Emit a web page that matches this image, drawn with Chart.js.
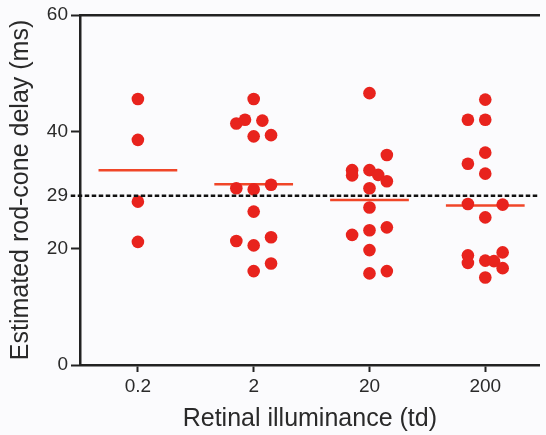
<!DOCTYPE html>
<html>
<head>
<meta charset="utf-8">
<script src="https://cdn.jsdelivr.net/npm/chart.js@4.4.1/dist/chart.umd.min.js"></script>
<style>
  html, body { margin: 0; padding: 0; background: #fbfbfd; }
  #wrap { width: 546px; height: 435px; }
</style>
</head>
<body>
<div id="wrap"><canvas id="c" width="546" height="435"></canvas></div>
<script>
// ---- data ----
const categories = ['0.2', '2', '20', '200'];
const yTickValues = [0, 20, 29, 40, 60];
const referenceDelay = 29;
const medians = [33.4, 31.0, 28.3, 27.35];

const values02  = [45.6, 38.6, 28.0, 21.1];
const jitter02  = [0, 0, 0, 0];
const values2   = [45.6, 41.4, 42.05, 41.9, 39.2, 39.4, 30.3, 30.1, 30.9, 26.3, 21.25, 20.5, 21.9, 17.4, 16.1];
const jitter2   = [0, -0.15, -0.075, 0.075, 0, 0.15, -0.15, 0, 0.15, 0, -0.15, 0, 0.15, 0.15, 0];
const values20  = [46.6, 36.0, 33.4, 32.5, 33.4, 32.6, 31.5, 30.3, 27.0, 22.3, 23.1, 23.6, 19.7, 15.7, 16.1];
const jitter20  = [0, 0.15, -0.15, -0.15, 0, 0.075, 0.15, 0, 0, -0.15, 0, 0.15, 0, 0, 0.15];
const values200 = [45.5, 42.05, 42.05, 36.4, 34.5, 32.8, 27.6, 27.5, 25.3, 18.8, 17.5, 17.9, 17.8, 19.3, 16.6, 15.0];
const jitter200 = [0, -0.15, 0, 0, -0.15, 0, -0.15, 0.15, 0, -0.15, -0.15, 0, 0.075, 0.15, 0.15, 0];

const groupValues = [values02, values2, values20, values200];
const groupJitter = [jitter02, jitter2, jitter20, jitter200];

// ---- styles ----
const DOT = '#e8231d';
const MED = '#f04628';
const AXIS = '#222222';
const TXT = '#2a2a2a';
const FONT = '"Liberation Sans", Arial, Helvetica, sans-serif';
const X_MIN = -0.5, X_MAX = 3.47, HALF = 0.34;

const datasets = [];
groupValues.forEach((vals, i) => {
  datasets.push({
    type: 'scatter',
    data: vals.map((v, j) => ({ x: i + groupJitter[i][j], y: v })),
    backgroundColor: DOT,
    borderColor: DOT,
    borderWidth: 0,
    pointRadius: 6.3,
    pointHoverRadius: 6.3,
    order: 1
  });
});
medians.forEach((m, i) => {
  datasets.push({
    type: 'line',
    data: [{ x: i - HALF, y: m }, { x: i + HALF, y: m }],
    borderColor: MED,
    borderWidth: 2.5,
    pointRadius: 0,
    fill: false,
    order: 2
  });
});
datasets.push({
  type: 'line',
  data: [{ x: X_MIN - 0.08, y: referenceDelay }, { x: X_MAX, y: referenceDelay }],
  borderColor: '#111',
  borderWidth: 2.5,
  borderDash: [4.5, 2.5],
  pointRadius: 0,
  fill: false,
  clip: false,
  order: 0
});

new Chart(document.getElementById('c'), {
  type: 'scatter',
  data: { datasets },
  options: {
    responsive: false,
    animation: false,
    events: [],
    layout: { padding: { top: 7, right: 0, left: 0, bottom: 0 } },
    plugins: { legend: { display: false }, tooltip: { enabled: false } },
    scales: {
      x: {
        type: 'linear',
        position: 'bottom',
        min: X_MIN,
        max: X_MAX,
        afterBuildTicks: (s) => { s.ticks = categories.map((c, i) => ({ value: i })); },
        afterFit: (s) => { s.height = 70; },
        ticks: {
          callback: (v) => categories[v],
          font: { family: FONT, size: 19 },
          color: TXT,
          padding: 3,
          maxRotation: 0,
          autoSkip: false
        },
        grid: { display: true, drawOnChartArea: false, drawTicks: true, tickLength: 7, tickWidth: 2, tickColor: AXIS },
        border: { display: true, color: AXIS, width: 2.5 },
        title: {
          display: true,
          text: 'Retinal illuminance (td)',
          font: { family: FONT, size: 25 },
          color: TXT,
          padding: { top: 0, bottom: 1 }
        }
      },
      xTop: {
        type: 'linear',
        position: 'top',
        min: X_MIN,
        max: X_MAX,
        ticks: { display: false },
        grid: { display: false },
        border: { display: true, color: AXIS, width: 2.5 }
      },
      y: {
        min: 0,
        max: 60,
        afterBuildTicks: (s) => { s.ticks = yTickValues.map(v => ({ value: v })); },
        afterFit: (s) => { s.width = 80; },
        ticks: {
          font: { family: FONT, size: 19 },
          color: TXT,
          padding: 3
        },
        grid: {
          display: true, drawOnChartArea: false, drawTicks: true, tickLength: 9, tickWidth: 2,
          tickColor: (ctx) => (ctx.tick && ctx.tick.value === referenceDelay) ? 'rgba(0,0,0,0)' : AXIS
        },
        border: { display: true, color: AXIS, width: 2.5 },
        title: {
          display: true,
          text: 'Estimated rod-cone delay (ms)',
          font: { family: FONT, size: 25 },
          color: TXT,
          padding: { top: 6, bottom: 0 }
        }
      }
    }
  }
});
</script>
</body>
</html>
